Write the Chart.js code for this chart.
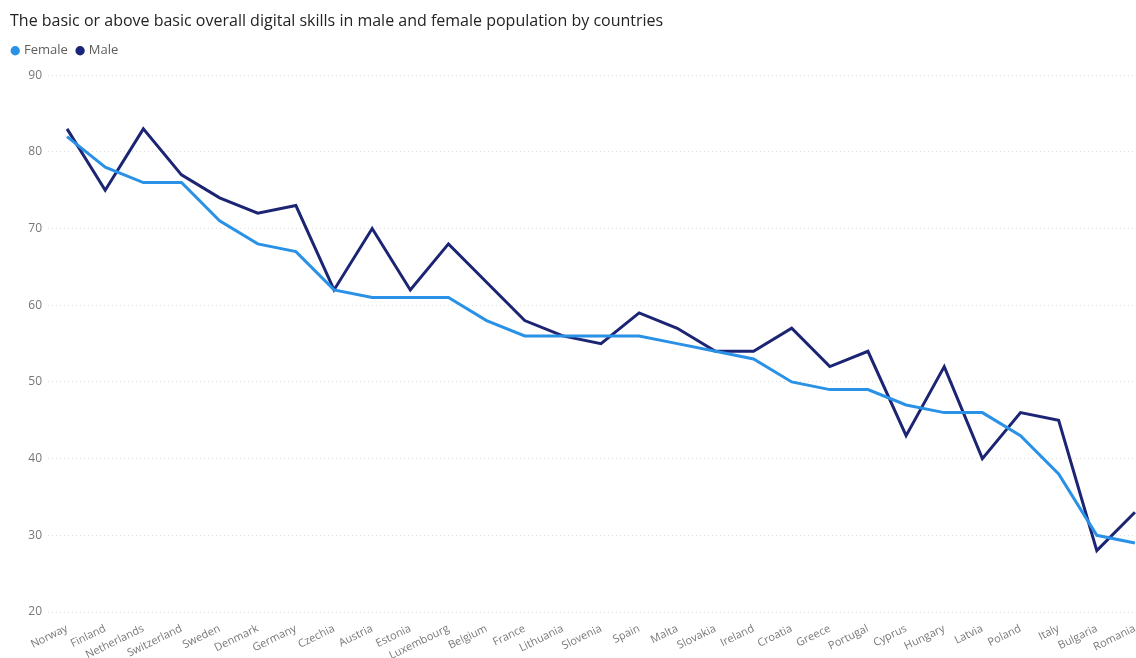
<!DOCTYPE html>
<html lang="en">
<head>
  <meta charset="UTF-8">
  <title>Digital skills by gender</title>
  <script src="https://cdn.jsdelivr.net/npm/chart.js"></script>
  <style>
    html, body {
      margin: 0;
      padding: 0;
      background: #ffffff;
      overflow: hidden;
    }

    .chart-container {
      position: absolute;
      left: 0;
      top: 0;
      width: 1160px;
      height: 658px;
    }
  </style>
</head>
<body>

  <div class="chart-container">
    <canvas id="skillsChart"></canvas>
  </div>

  <script>
    const countries = ["Norway", "Finland", "Netherlands", "Switzerland", "Sweden", "Denmark", "Germany", "Czechia",
      "Austria", "Estonia", "Luxembourg", "Belgium", "France", "Lithuania", "Slovenia", "Spain", "Malta", "Slovakia",
      "Ireland", "Croatia", "Greece", "Portugal", "Cyprus", "Hungary", "Latvia", "Poland", "Italy", "Bulgaria", "Romania"];
    const female = [82, 78, 76, 76, 71, 68, 67, 62, 61, 61, 61, 58, 56, 56, 56, 56, 55, 54, 53, 50, 49, 49, 47, 46, 46, 43, 38, 30, 29];
    const male = [83, 75, 83, 77, 74, 72, 73, 62, 70, 62, 68, 63, 58, 56, 55, 59, 57, 54, 54, 57, 52, 54, 43, 52, 40, 46, 45, 28, 33];
    const yTicks = [20, 30, 40, 50, 60, 70, 80, 90];

    const femaleColor = '#2a92e6';
    const maleColor = '#1b2573';
    const textFont = "'Open Sans', sans-serif";

    // legend: a bit more room below it, and pulled left under the title
    const legendTweaks = {
      id: 'legendTweaks',
      beforeInit(chart) {
        const fit = chart.legend.fit;
        chart.legend.fit = function () {
          fit.call(this);
          this.height += 8;
        };
      },
      afterLayout(chart) {
        chart.legend.left -= 7;
        chart.legend.right -= 7;
      }
    };

    const ctx = document.getElementById('skillsChart').getContext('2d');

    new Chart(ctx, {
      type: 'line',
      data: {
        labels: countries,
        datasets: [
          {
            label: 'Female',
            data: female,
            borderColor: femaleColor,
            backgroundColor: femaleColor,
            borderWidth: 3,
            pointRadius: 0,
            tension: 0
          },
          {
            label: 'Male',
            data: male,
            borderColor: maleColor,
            backgroundColor: '#12239e',
            borderWidth: 3,
            pointRadius: 0,
            tension: 0
          }
        ]
      },
      plugins: [legendTweaks],
      options: {
        responsive: true,
        maintainAspectRatio: false,
        animation: false,
        layout: {
          padding: { left: 10, top: 0, right: 6, bottom: 0 }
        },
        plugins: {
          title: {
            display: true,
            text: 'The basic or above basic overall digital skills in male and female population by countries',
            align: 'start',
            color: '#252423',
            font: { family: textFont, size: 16, weight: 'normal' },
            padding: { top: 12, bottom: 3 }
          },
          legend: {
            align: 'start',
            labels: {
              usePointStyle: true,
              pointStyle: 'circle',
              boxWidth: 4.5,
              boxHeight: 4.5,
              padding: 10,
              color: '#605e5c',
              font: { family: textFont, size: 13 }
            }
          },
          tooltip: { enabled: false }
        },
        scales: {
          x: {
            offset: true,
            grid: { display: false },
            border: { display: false },
            ticks: {
              autoSkip: false,
              minRotation: 26,
              maxRotation: 26,
              padding: 2,
              color: '#777777',
              font: { family: textFont, size: 11 }
            },
            afterFit: (scale) => { scale.height = 46; }
          },
          y: {
            min: 20,
            max: 90,
            afterBuildTicks: (scale) => { scale.ticks = yTicks.map(v => ({ value: v })); },
            grid: { color: '#dddddd', lineWidth: 1, drawTicks: false },
            border: { display: false, dash: [1, 3] },
            ticks: {
              padding: 6,
              color: '#777777',
              font: { family: textFont, size: 12 }
            },
            afterFit: (scale) => { scale.width = 38; }
          }
        }
      }
    });
  </script>

</body>
</html>
